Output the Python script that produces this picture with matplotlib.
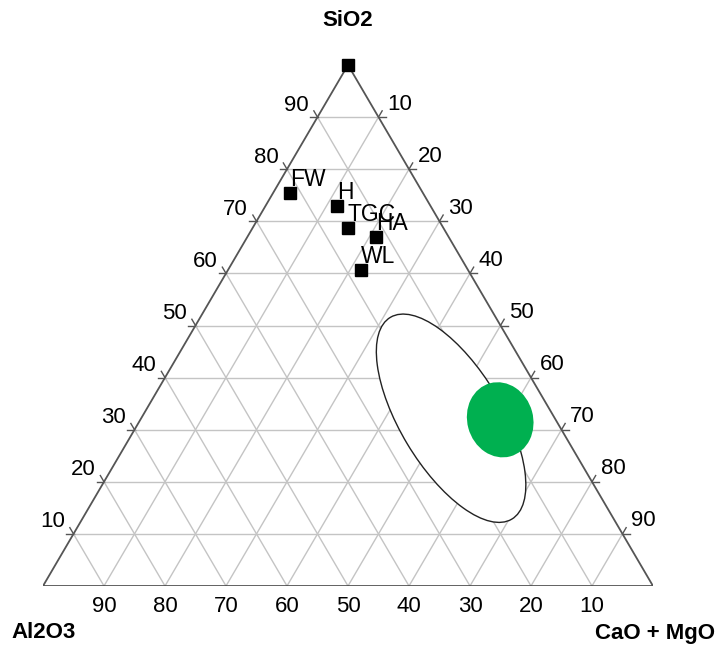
import numpy as np
import matplotlib
matplotlib.use('Agg')
import matplotlib.pyplot as plt
from matplotlib.patches import Ellipse

plt.rcParams['font.family'] = ['Liberation Sans', 'DejaVu Sans']

# samples (wt %)
labels = ['FW', 'H', 'TGC', 'HA', 'WL']
sio2 = [75.4, 72.9, 68.7, 67.0, 60.7]
al2o3 = [21.8, 15.4, 15.7, 11.9, 17.5]
cao_mgo = [2.8, 11.7, 15.6, 21.1, 21.8]

# unlabelled point at the apex
apex_pt = [100.0, 0.0, 0.0]   # SiO2, Al2O3, CaO+MgO

# big outlined field and green field (centre as composition)
field_centre = [32.2, 17.0, 50.8]
field_w, field_h, field_ang = 0.39, 0.167, -59.4
green_centre = [31.9, 9.1, 59.0]
green_w, green_h, green_ang = 0.108, 0.126, 15

ticks = [10, 20, 30, 40, 50, 60, 70, 80, 90]

H = np.sqrt(3) / 2


def to_xy(s, a, c):
    tot = s + a + c
    s, c = s / tot, c / tot
    return c + s / 2, s * H


fig = plt.figure(figsize=(7.16, 6.46), dpi=100)
ax = fig.add_axes([43 / 716, 60 / 646, 610 / 716, 521 / 646])
ax.set_xlim(0, 1)
ax.set_ylim(0, H)
ax.axis('off')

grid_c = '#c4c4c4'
edge_c = '#555555'
ext = 0.012

for k in ticks:
    # constant SiO2
    p1 = to_xy(k, 100 - k, 0)
    p2 = to_xy(k, 0, 100 - k)
    ax.plot([p1[0], p2[0]], [p1[1], p2[1]], color=grid_c, lw=1, zorder=1)
    ax.plot([p1[0] - ext, p1[0]], [p1[1], p1[1]], color=edge_c, lw=1, zorder=1)
    ax.plot([p2[0], p2[0] + ext], [p2[1], p2[1]], color=edge_c, lw=1, zorder=1)
    # constant CaO+MgO
    p1 = to_xy(0, 100 - k, k)
    p2 = to_xy(100 - k, 0, k)
    ax.plot([p1[0], p2[0]], [p1[1], p2[1]], color=grid_c, lw=1, zorder=1)
    ax.plot([p1[0], p1[0] - ext / 2], [p1[1], p1[1] - ext * H], color=edge_c, lw=1, zorder=1)
    ax.plot([p2[0], p2[0] + ext / 2], [p2[1], p2[1] + ext * H], color=edge_c, lw=1, zorder=1)
    # constant Al2O3
    p1 = to_xy(0, k, 100 - k)
    p2 = to_xy(100 - k, k, 0)
    ax.plot([p1[0], p2[0]], [p1[1], p2[1]], color=grid_c, lw=1, zorder=1)
    ax.plot([p1[0], p1[0] + ext / 2], [p1[1], p1[1] - ext * H], color=edge_c, lw=1, zorder=1)
    ax.plot([p2[0], p2[0] - ext / 2], [p2[1], p2[1] + ext * H], color=edge_c, lw=1, zorder=1)

# triangle outline
corners = [to_xy(0, 100, 0), to_xy(0, 0, 100), to_xy(100, 0, 0), to_xy(0, 100, 0)]
ax.plot([p[0] for p in corners], [p[1] for p in corners], color=edge_c, lw=1.3, zorder=2)

# tick labels
fs = 16
for k in ticks:
    x, y = to_xy(k, 100 - k, 0)
    ax.annotate(str(k), (x, y), xytext=(-21, 12), textcoords='offset pixels',
                ha='center', va='center', fontsize=fs, annotation_clip=False)
    x, y = to_xy(100 - k, 0, k)
    ax.annotate(str(k), (x, y), xytext=(21, 13), textcoords='offset pixels',
                ha='center', va='center', fontsize=fs, annotation_clip=False)
    x, y = to_xy(0, k, 100 - k)
    ax.annotate(str(k), (x, y), xytext=(0, -21), textcoords='offset pixels',
                ha='center', va='center', fontsize=fs, annotation_clip=False)

# fields
cx, cy = to_xy(*field_centre)
ax.add_patch(Ellipse((cx, cy), field_w, field_h, angle=field_ang,
                     facecolor='white', edgecolor='#222222', lw=1, zorder=3))
gx, gy = to_xy(*green_centre)
ax.add_patch(Ellipse((gx, gy), green_w, green_h, angle=green_ang,
                     facecolor='#00b050', edgecolor='none', zorder=4))

# samples
xs, ys = zip(*[to_xy(s, a, c) for s, a, c in zip(sio2, al2o3, cao_mgo)])
ax.plot(xs, ys, 's', color='black', ms=8, zorder=5, clip_on=False)
ax.plot(*to_xy(*apex_pt), 's', color='black', ms=8, zorder=5, clip_on=False)
for lab, x, y in zip(labels, xs, ys):
    ax.annotate(lab, (x, y), xytext=(0, 7), textcoords='offset pixels',
                ha='left', va='baseline', fontsize=16.5, zorder=6)

# corner titles
fig.text(348 / 716, 1 - 21 / 646, 'SiO2', ha='center', va='center',
         fontsize=16, fontweight='bold')
fig.text(11 / 716, 1 - 633 / 646, 'Al2O3', ha='left', va='center',
         fontsize=16, fontweight='bold')
fig.text(715 / 716, 1 - 633 / 646, 'CaO + MgO', ha='right', va='center',
         fontsize=16, fontweight='bold')

fig.savefig('out.png', dpi=100)
